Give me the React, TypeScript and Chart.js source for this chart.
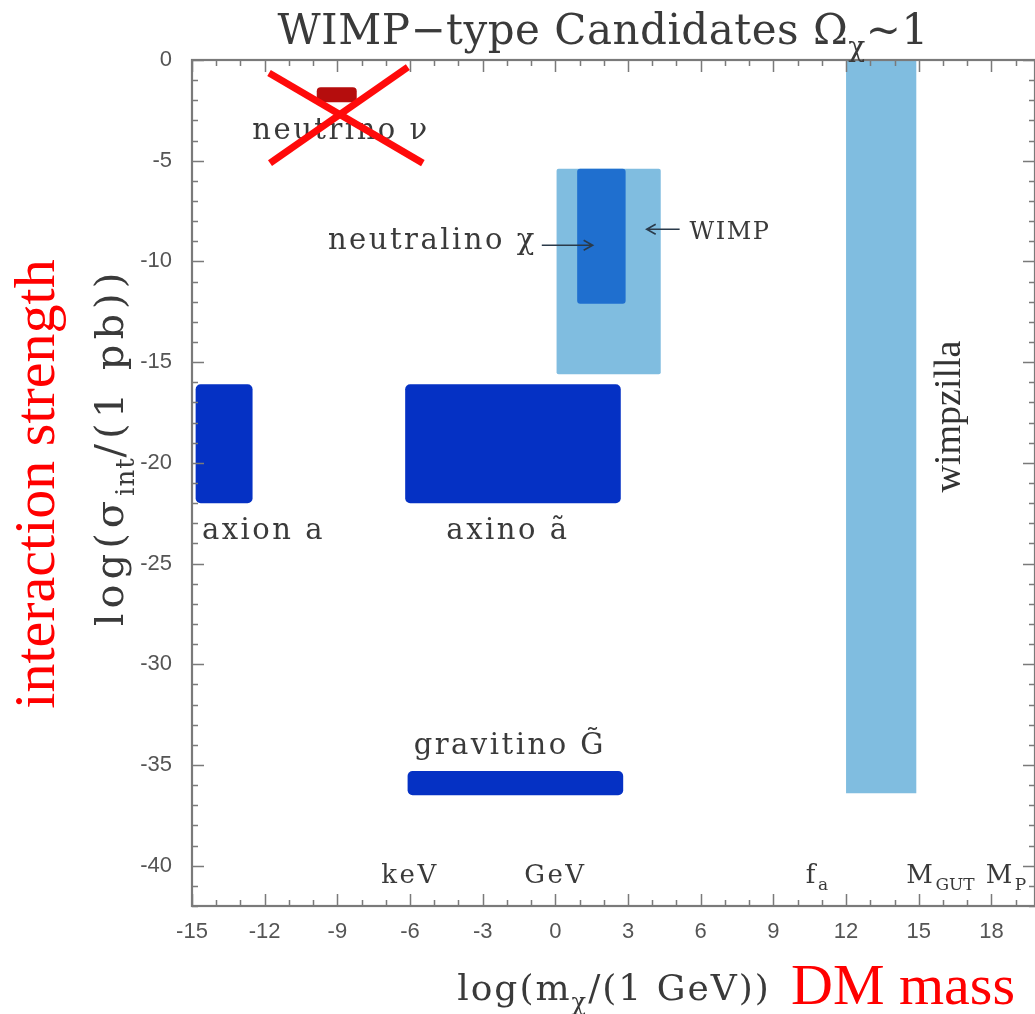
import { useEffect, useRef } from "react";
import { Chart, registerables } from "chart.js";

Chart.register(...registerables);

// Axis ticks
const xTickValues = [-15, -12, -9, -6, -3, 0, 3, 6, 9, 12, 15, 18];
const yTickValues = [0, -5, -10, -15, -20, -25, -30, -35, -40];
const xRange = [-15, 19.8];
const yRange = [-42, 0];

// Candidate regions: log10(mass / GeV) and log10(sigma_int / pb)
const candidateNames = ["wimpzilla", "WIMP", "neutralino", "axion", "axino", "gravitino", "neutrino"];
const massLow = [12.0, 0.05, 0.9, -14.85, -6.2, -6.1, -9.85];
const massHigh = [14.9, 4.35, 2.9, -12.5, 2.7, 2.8, -8.2];
const sigmaTop = [0, -5.4, -5.4, -16.1, -16.1, -35.3, -1.35];
const sigmaBottom = [-36.4, -15.6, -12.1, -22.0, -22.0, -36.5, -2.1];
const candidateColors = ["#80bde0", "#80bde0", "#1f6fcf", "#0531c4", "#0531c4", "#0531c4", "#b50d0d"];
const candidateRadius = [0, 2, 3, 5, 5, 5, 4];

// Red cross struck through the neutrino region
const crossStrokeA = [
  { x: -11.82, y: -0.65 },
  { x: -5.47, y: -5.12 },
];
const crossStrokeB = [
  { x: -6.09, y: -0.35 },
  { x: -11.78, y: -5.12 },
];

// Region labels (text, anchor in data units, alignment)
const labelTexts = ["neutrino ν", "neutralino χ", "WIMP", "axion a", "axino ã", "gravitino G̃", "keV", "GeV", "f_{a}", "M_{GUT}", "M_{P}"];
const labelX = [-8.85, -0.77, 5.54, -12.05, -1.96, -1.88, -6.0, 0.0, 10.8, 15.9, 18.6];
const labelY = [-3.9, -9.4, -8.9, -23.8, -23.8, -34.45, -40.85, -40.85, -40.85, -40.85, -40.85];
const labelAlign: CanvasTextAlign[] = ["center", "right", "left", "center", "center", "center", "center", "center", "center", "center", "center"];

// Arrows: [x0, x1] -> head at x1, at height y
const arrowFromX = [-0.56, 5.13];
const arrowToX = [1.54, 3.77];
const arrowY = [-9.2, -8.4];

const SERIF = "'DejaVu Serif', 'Liberation Serif', serif";
const TIMES = "'Liberation Serif', 'Times New Roman', serif";
const SANS = "'Liberation Sans', Arial, sans-serif";

type Seg = { t: string; sub: boolean };

function parseRich(text: string): Seg[] {
  const segs: Seg[] = [];
  const re = /_\{([^}]*)\}/g;
  let last = 0;
  let m: RegExpExecArray | null;
  while ((m = re.exec(text))) {
    if (m.index > last) segs.push({ t: text.slice(last, m.index), sub: false });
    segs.push({ t: m[1], sub: true });
    last = m.index + m[0].length;
  }
  if (last < text.length) segs.push({ t: text.slice(last), sub: false });
  return segs;
}

function drawRich(
  ctx: CanvasRenderingContext2D,
  text: string,
  x: number,
  y: number,
  size: number,
  family: string,
  align: CanvasTextAlign,
  spacing = 0,
  color = "#333",
  subSpacing = spacing
) {
  const segs = parseRich(text);
  ctx.save();
  ctx.fillStyle = color;
  ctx.textAlign = "left";
  ctx.textBaseline = "alphabetic";
  const setFont = (s: Seg) => {
    ctx.font = `${s.sub ? Math.round(size * 0.66) : size}px ${family}`;
    (ctx as any).letterSpacing = `${s.sub ? subSpacing : spacing}px`;
  };
  const widths = segs.map((s) => {
    setFont(s);
    return ctx.measureText(s.t).width;
  });
  const total = widths.reduce((a, b) => a + b, 0);
  let cx = align === "center" ? x - total / 2 : align === "right" ? x - total : x;
  segs.forEach((s, i) => {
    setFont(s);
    ctx.fillText(s.t, cx, s.sub ? y + size * 0.28 : y);
    cx += widths[i];
  });
  ctx.restore();
}

const regionsPlugin = {
  id: "regions",
  beforeDatasetsDraw(chart: any) {
    const { ctx, chartArea, scales } = chart;
    const xs = scales.x;
    const ys = scales.y;

    // candidate boxes
    ctx.save();
    ctx.beginPath();
    ctx.rect(chartArea.left, chartArea.top, chartArea.right - chartArea.left, chartArea.bottom - chartArea.top);
    ctx.clip();
    candidateNames.forEach((_, i) => {
      const x0 = xs.getPixelForValue(massLow[i]);
      const x1 = xs.getPixelForValue(massHigh[i]);
      const y0 = ys.getPixelForValue(sigmaTop[i]);
      const y1 = ys.getPixelForValue(sigmaBottom[i]);
      ctx.fillStyle = candidateColors[i];
      ctx.beginPath();
      ctx.roundRect(x0, y0, x1 - x0, y1 - y0, candidateRadius[i]);
      ctx.fill();
    });
    ctx.restore();

    // frame with ticks on all four sides
    const { left, right, top, bottom } = chartArea;
    ctx.save();
    ctx.strokeStyle = "#7a7a7a";
    ctx.lineWidth = 1.5;
    ctx.beginPath();
    for (let v = Math.ceil(xRange[0]); v <= xRange[1]; v++) {
      const px = Math.round(xs.getPixelForValue(v)) + 0.5;
      const len = v % 3 === 0 ? 12 : 6;
      ctx.moveTo(px, bottom);
      ctx.lineTo(px, bottom - len);
      ctx.moveTo(px, top);
      ctx.lineTo(px, top + len);
    }
    for (let v = 0; v >= yRange[0]; v--) {
      const py = Math.round(ys.getPixelForValue(v)) + 0.5;
      const len = v % 5 === 0 ? 12 : 6;
      ctx.moveTo(left, py);
      ctx.lineTo(left + len, py);
      ctx.moveTo(right, py);
      ctx.lineTo(right - len, py);
    }
    ctx.stroke();
    ctx.lineWidth = 2.2;
    ctx.strokeRect(left, top, right - left, bottom - top);
    ctx.restore();

    // labels
    labelTexts.forEach((t, i) => {
      const px = xs.getPixelForValue(labelX[i]);
      const py = ys.getPixelForValue(labelY[i]);
      const isMass = i >= 6;
      const isWimp = t === "WIMP";
      drawRich(
        ctx,
        t,
        px,
        py,
        isWimp ? 24 : isMass ? 26 : 29,
        SERIF,
        labelAlign[i],
        isWimp ? 1.5 : 2.5,
        "#3a3a3a",
        isMass ? 0 : 2.5
      );
    });

    // arrows
    ctx.save();
    ctx.strokeStyle = "#2a3a4a";
    ctx.lineWidth = 1.6;
    arrowFromX.forEach((fx, i) => {
      const x0 = xs.getPixelForValue(fx);
      const x1 = xs.getPixelForValue(arrowToX[i]);
      const y = ys.getPixelForValue(arrowY[i]);
      const dir = Math.sign(x1 - x0);
      ctx.beginPath();
      ctx.moveTo(x0, y);
      ctx.lineTo(x1, y);
      ctx.moveTo(x1 - dir * 9, y - 5);
      ctx.lineTo(x1, y);
      ctx.lineTo(x1 - dir * 9, y + 5);
      ctx.stroke();
    });
    ctx.restore();

    // wimpzilla, vertical
    ctx.save();
    ctx.translate(xs.getPixelForValue(16.23), ys.getPixelForValue(-17.7));
    ctx.rotate(-Math.PI / 2);
    drawRich(ctx, "wimpzilla", 0, 11, 38, TIMES, "center", 0, "#333");
    ctx.restore();
  },
  afterDraw(chart: any) {
    const { ctx } = chart;
    // title
    drawRich(ctx, "WIMP−type Candidates Ω_{χ}~1", 603, 44, 42, SERIF, "center", 0.5, "#3a3a3a");
    // x axis title + note
    drawRich(ctx, "log(m_{χ}/(1 GeV))", 614, 1000, 36, SERIF, "center", 2, "#3a3a3a");
    drawRich(ctx, "DM mass", 791, 1004, 58, TIMES, "left", 0, "#ff0000");
    // y axis title + note
    ctx.save();
    ctx.translate(123, 447);
    ctx.rotate(-Math.PI / 2);
    drawRich(ctx, "log(σ_{int}/(1 pb))", 0, 0, 40, SERIF, "center", 5, "#3a3a3a", 1);
    ctx.restore();
    ctx.save();
    ctx.translate(54, 484);
    ctx.rotate(-Math.PI / 2);
    drawRich(ctx, "interaction strength", 0, 0, 58, TIMES, "center", 0, "#ff0000");
    ctx.restore();
  },
};

export default function App() {
  const ref = useRef<HTMLCanvasElement>(null);

  useEffect(() => {
    if (!ref.current) return;
    const chart = new Chart(ref.current, {
      type: "scatter",
      data: {
        datasets: [
          {
            data: crossStrokeA,
            showLine: true,
            borderColor: "#ff0a0a",
            borderWidth: 7,
            pointRadius: 0,
          },
          {
            data: crossStrokeB,
            showLine: true,
            borderColor: "#ff0a0a",
            borderWidth: 7,
            pointRadius: 0,
          },
        ],
      },
      options: {
        responsive: false,
        animation: false,
        devicePixelRatio: 1,
        events: [],
        layout: { padding: { top: 60, right: 0, left: 0, bottom: 0 } },
        plugins: {
          legend: { display: false },
          tooltip: { enabled: false },
          title: { display: false },
        },
        scales: {
          x: {
            type: "linear",
            min: xRange[0],
            max: xRange[1],
            grid: { display: false, drawTicks: false },
            border: { display: false },
            ticks: {
              color: "#555",
              font: { family: SANS, size: 22 },
              padding: 13,
            },
            afterBuildTicks: (scale: any) => {
              scale.ticks = xTickValues.map((v) => ({ value: v }));
            },
            afterFit: (scale: any) => {
              scale.height = 108;
            },
          },
          y: {
            type: "linear",
            min: yRange[0],
            max: yRange[1],
            grid: { display: false, drawTicks: false },
            border: { display: false },
            ticks: {
              color: "#555",
              font: { family: SANS, size: 22 },
              padding: 20,
            },
            afterBuildTicks: (scale: any) => {
              scale.ticks = yTickValues.map((v) => ({ value: v }));
            },
            afterFit: (scale: any) => {
              scale.width = 192;
            },
          },
        },
      },
      plugins: [regionsPlugin],
    });
    return () => chart.destroy();
  }, []);

  return (
    <div style={{ position: "fixed", left: 0, top: 0, width: 1035, height: 1014, background: "#fff" }}>
      <canvas ref={ref} width={1035} height={1014} style={{ display: "block" }} />
    </div>
  );
}
